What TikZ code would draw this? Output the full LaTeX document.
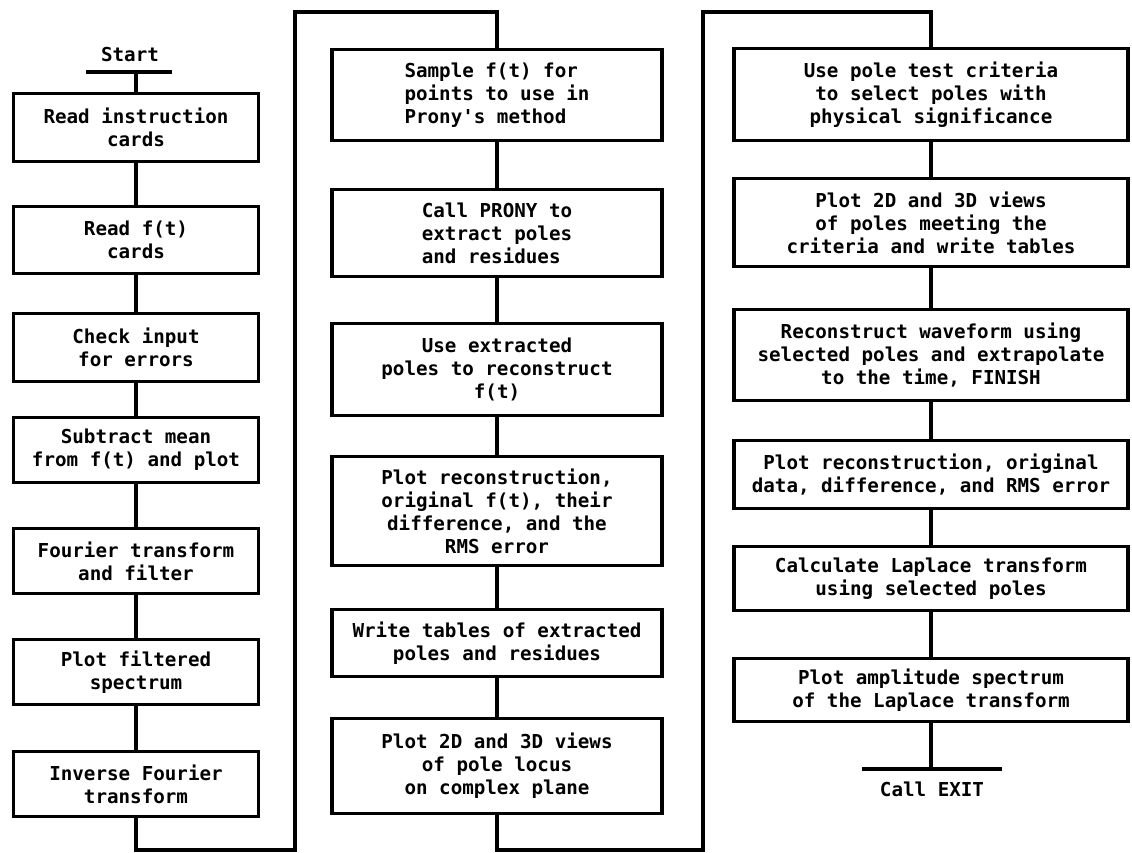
\documentclass[tikz,border=0pt]{standalone}
\usepackage{fontspec}
\newfontfamily\flowfont{DejaVu Sans Mono Bold}
\begin{document}
\begin{tikzpicture}[x=1pt,y=-1pt,
  every node/.style={font=\flowfont\fontsize{19.2}{23}\selectfont},
  box/.style={draw, line width=3.8pt, inner sep=0pt, align=center},
  lbox/.style={box, align=left},
  col1/.style={minimum width=245pt},
  col2/.style={minimum width=330pt},
  col3/.style={minimum width=394pt},
  wire/.style={line width=3.8pt},
  bar/.style={line width=4pt}]
\useasboundingbox (0,0) rectangle (1132,852);

% Column 1
\node[box,col1,minimum height=68pt] (n1) at (136,127.5) {Read instruction\\cards};
\node[box,col1,minimum height=67pt] (n2) at (136,240) {Read f(t)\\cards};
\node[box,col1,minimum height=68pt] (n3) at (136,347.5) {Check input\\for errors};
\node[box,col1,minimum height=65pt] (n4) at (136,450) {Subtract mean\\from f(t) and plot};
\node[box,col1,minimum height=65pt] (n5) at (136,561) {Fourier transform\\and filter};
\node[box,col1,minimum height=65pt] (n6) at (136,672) {Plot filtered\\spectrum};
\node[box,col1,minimum height=65pt] (n7) at (136,784) {Inverse Fourier\\transform};

% Start
\node (start) at (130,55) {Start};
\coordinate (sL) at (86,72);
\coordinate (sR) at (172,72);
\draw[bar] (sL) -- (sR);
\coordinate (sM) at (n1.north |- sL);
\draw[wire] (sM) -- (n1.north);

% Column 2
\node[lbox,col2,minimum height=91pt] (nA) at (497,95) {Sample f(t) for\\points to use in\\Prony's method};
\node[lbox,col2,minimum height=87pt] (nB) at (497,233) {Call PRONY to\\extract poles\\and residues};
\node[box,col2,minimum height=92pt] (nC) at (497,369.5) {Use extracted\\poles to reconstruct\\f(t)};
\node[box,col2,minimum height=109pt] (nD) at (497,511) {Plot reconstruction,\\original f(t), their\\difference, and the\\RMS error};
\node[box,col2,minimum height=67pt] (nE) at (497,643) {Write tables of extracted\\poles and residues};
\node[box,col2,minimum height=95pt] (nF) at (497,766) {Plot 2D and 3D views\\of pole locus\\on complex plane};

% Column 3
\node[box,col3,minimum height=92pt] (nG) at (931,94.5) {Use pole test criteria\\to select poles with\\physical significance};
\node[box,col3,minimum height=88pt] (nH) at (931,222.5) {Plot 2D and 3D views\\of poles meeting the\\criteria and write tables};
\node[box,col3,minimum height=91pt] (nI) at (931,355) {Reconstruct waveform using\\selected poles and extrapolate\\to the time, FINISH};
\node[box,col3,minimum height=68pt] (nJ) at (931,474.5) {Plot reconstruction, original\\data, difference, and RMS error};
\node[box,col3,minimum height=64pt] (nK) at (931,578.5) {Calculate Laplace transform\\using selected poles};
\node[box,col3,minimum height=63pt] (nL) at (931,690) {Plot amplitude spectrum\\of the Laplace transform};

% End
\coordinate (eL) at (862,769);
\coordinate (eR) at (1002,769);
\draw[bar] (eL) -- (eR);
\coordinate (eM) at (nL.south |- eL);
\draw[wire] (nL.south) -- (eM);
\node (exit) at (932,789) {Call EXIT};

% Straight connectors
\foreach \a/\b in {n1/n2,n2/n3,n3/n4,n4/n5,n5/n6,n6/n7,
                   nA/nB,nB/nC,nC/nD,nD/nE,nE/nF,
                   nG/nH,nH/nI,nI/nJ,nJ/nK,nK/nL}
  \draw[wire] (\a) -- (\b);

% Loop connectors
\coordinate (c1a) at (295,850);
\coordinate (c1b) at (295,12);
\draw[wire] (n7.south) |- (c1a) -- (c1b) -| (nA.north);
\coordinate (c2a) at (703,850);
\coordinate (c2b) at (703,12);
\draw[wire] (nF.south) |- (c2a) -- (c2b) -| (nG.north);
\end{tikzpicture}
\end{document}
